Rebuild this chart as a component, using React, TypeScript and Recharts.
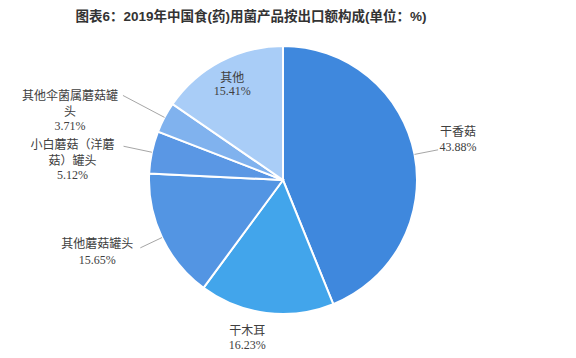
import { PieChart, Pie, Cell } from "recharts"

const categories = ["干香菇", "干木耳", "其他蘑菇罐头", "小白蘑菇（洋蘑菇）罐头", "其他伞菌属蘑菇罐头", "其他"]
const shares = [43.88, 16.23, 15.65, 5.12, 3.71, 15.41]
// how each category name wraps on the chart
const labelLines = [["干香菇"], ["干木耳"], ["其他蘑菇罐头"], ["小白蘑菇（洋蘑", "菇）罐头"], ["其他伞菌属蘑菇罐", "头"], ["其他"]]
const colors = ["#3f88dd", "#42a5eb", "#5395e3", "#5a97e4", "#80b2ee", "#a9cdf7"]

// label placement: leader length past the rim (0 = no leader), text block offset from leader end
const labelLayout = [
  { ext: 24, dx: 20, dy: -19, gap: 16 },
  { ext: 0, dx: -19, dy: 17, gap: 15 },
  { ext: 24, dx: -43, dy: -5, gap: 17 },
  { ext: 29, dx: -51, dy: -3, gap: 16 },
  { ext: 47, dx: -53, dy: -1, gap: 16 },
  { ext: -25, dx: 0, dy: -7, gap: 14 },
]

const data = categories.map((name, i) => ({ name, value: shares[i] }))

const RAD = Math.PI / 180

function renderLabel(props: any) {
  const { cx, cy, midAngle, outerRadius, index, value } = props
  const lay = labelLayout[index]
  const cos = Math.cos(-midAngle * RAD)
  const sin = Math.sin(-midAngle * RAD)
  const sx = cx + outerRadius * cos
  const sy = cy + outerRadius * sin
  const ex = cx + (outerRadius + lay.ext) * cos
  const ey = cy + (outerRadius + lay.ext) * sin
  const tx = ex + lay.dx
  const lines = [...labelLines[index], value.toFixed(2) + "%"]
  return (
    <g>
      {lay.ext > 0 && (
        <polyline points={`${sx},${sy} ${ex},${ey}`} stroke="#a6a6a6" strokeWidth={1} fill="none" />
      )}
      {lines.map((t, k) => {
        const isNum = k === lines.length - 1
        return (
          <text
            key={k}
            x={tx}
            y={ey + lay.dy + k * lay.gap}
            textAnchor="middle"
            dominantBaseline="central"
            fill="#404040"
            fontSize={12}
            fontFamily={isNum ? "'Liberation Serif', serif" : "'Noto Sans CJK SC', sans-serif"}
          >
            {t}
          </text>
        )
      })}
    </g>
  )
}

export default function App() {
  return (
    <div style={{ position: "absolute", left: 0, top: 0, width: 576, height: 358, background: "#fff" }}>
      <div
        style={{
          position: "absolute",
          left: 0,
          top: 7,
          width: 502,
          textAlign: "center",
          fontFamily: "Arial, 'Noto Sans CJK SC', sans-serif",
          fontWeight: "bold",
          fontSize: 13.5,
          color: "#333",
          lineHeight: "20px",
        }}
      >
        图表6：2019年中国食(药)用菌产品按出口额构成(单位：%)
      </div>
      <PieChart width={576} height={358} style={{ position: "absolute", left: 0, top: 0 }}>
        <Pie
          data={data}
          dataKey="value"
          nameKey="name"
          cx={278}
          cy={175}
          outerRadius={134}
          startAngle={90}
          endAngle={-270}
          stroke="#ffffff"
          strokeWidth={2}
          label={renderLabel}
          labelLine={false}
          isAnimationActive={false}
        >
          {data.map((d, i) => (
            <Cell key={d.name} fill={colors[i]} />
          ))}
        </Pie>
      </PieChart>
    </div>
  )
}
